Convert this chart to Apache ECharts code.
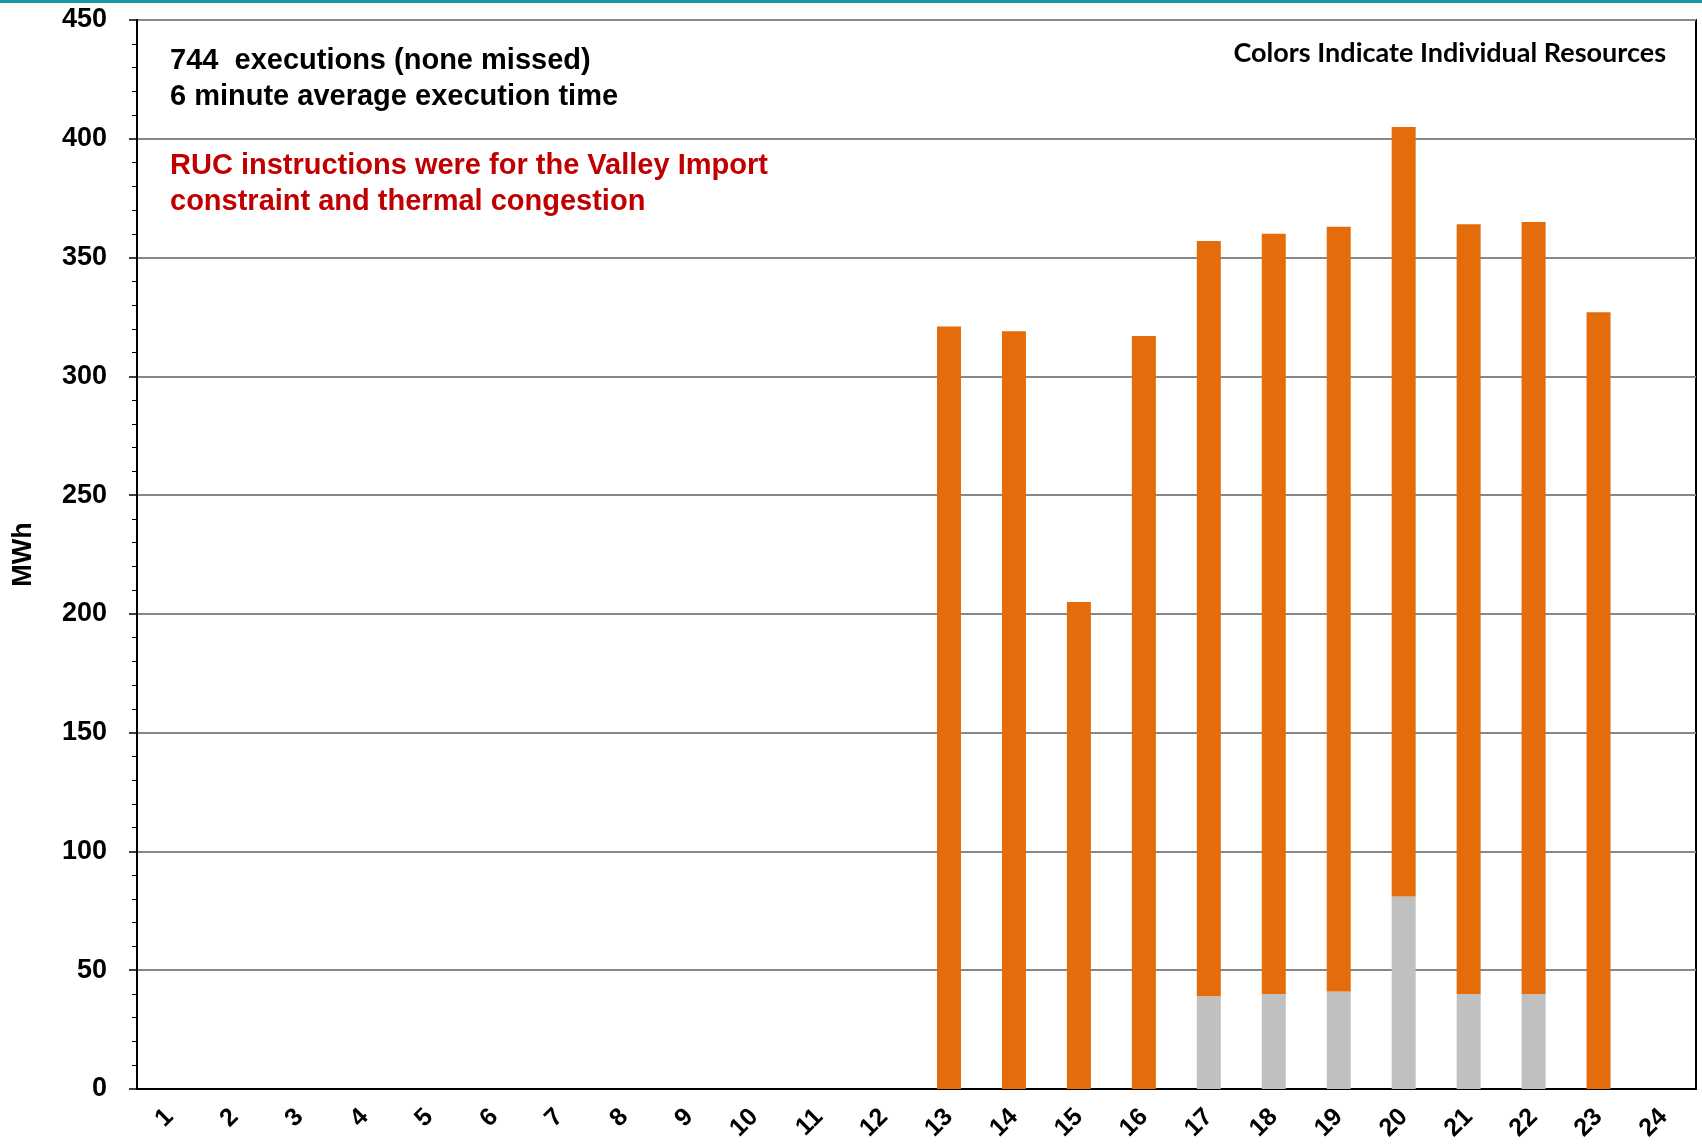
<!DOCTYPE html>
<html>
<head>
<meta charset="utf-8">
<script src="https://cdn.jsdelivr.net/npm/echarts@6/dist/echarts.min.js"></script>
<style>
  html, body { margin: 0; padding: 0; background: #fff; }
  #main { width: 1702px; height: 1144px; }
</style>
</head>
<body>
<div id="main"></div>
<script>
// hours of the day
var hours = ['1','2','3','4','5','6','7','8','9','10','11','12','13','14','15','16','17','18','19','20','21','22','23','24'];
// gray resource (bottom of stack), MWh
var grayResource = [0,0,0,0,0,0,0,0,0,0,0,0, 0,0,0,0, 39,40,41,81,40,40, 0,0];
// orange resource (top of stack), MWh
var orangeResource = [0,0,0,0,0,0,0,0,0,0,0,0, 321,319,205,317, 318,320,322,324,324,325, 327,0];
var yTicks = [0, 50, 100, 150, 200, 250, 300, 350, 400, 450];

var chartDom = document.getElementById('main');
var myChart = echarts.init(chartDom);

var arial = '"Liberation Sans", Arial, sans-serif';

var option = {
    backgroundColor: '#ffffff',
    animation: false,
    grid: {
        left: 137,
        right: 6,
        top: 20,
        bottom: 55,
        containLabel: false,
        outerBoundsMode: 'none',
        show: true,
        borderColor: '#000',
        borderWidth: 2
    },
    xAxis: {
        type: 'category',
        data: hours,
        axisLine: { lineStyle: { color: '#000', width: 2 } },
        axisTick: { length: 8, lineStyle: { color: '#000', width: 1.5 } },
        axisLabel: {
            rotate: 45,
            margin: 24,
            color: '#000',
            fontWeight: 'bold',
            fontSize: 25,
            fontFamily: arial
        }
    },
    yAxis: {
        type: 'value',
        min: yTicks[0],
        max: yTicks[yTicks.length - 1],
        interval: 50,
        name: 'MWh',
        nameLocation: 'middle',
        nameGap: 100,
        nameTextStyle: { color: '#000', fontWeight: 'bold', fontSize: 27, fontFamily: arial },
        axisLine: { show: true, lineStyle: { color: '#000', width: 2 } },
        axisTick: { show: true, length: 8, lineStyle: { color: '#000', width: 1.5 } },
        minorTick: { show: true, splitNumber: 5, length: 5, lineStyle: { color: '#000', width: 1 } },
        axisLabel: {
            margin: 30,
            color: '#000',
            fontWeight: 'bold',
            fontSize: 27,
            fontFamily: arial
        },
        splitLine: { lineStyle: { color: '#878787', width: 2 } }
    },
    series: [
        {
            name: 'Resource A',
            type: 'bar',
            stack: 'ruc',
            barWidth: 24,
            itemStyle: { color: '#c0c0c0' },
            data: grayResource
        },
        {
            name: 'Resource B',
            type: 'bar',
            stack: 'ruc',
            barWidth: 24,
            itemStyle: { color: '#e46c0a' },
            data: orangeResource
        }
    ],
    graphic: [
        {
            type: 'rect',
            left: 0, top: 0,
            shape: { width: 1702, height: 3 },
            style: { fill: '#139b9b' }
        },
        {
            type: 'text',
            left: 170, top: 43,
            style: {
                text: '744  executions (none missed)\n6 minute average execution time',
                fill: '#000',
                font: 'bold 29px ' + arial,
                lineHeight: 36
            }
        },
        {
            type: 'text',
            left: 170, top: 148,
            style: {
                text: 'RUC instructions were for the Valley Import\nconstraint and thermal congestion',
                fill: '#c00000',
                font: 'bold 29px ' + arial,
                lineHeight: 36
            }
        },
        {
            type: 'text',
            right: 36, top: 40,
            style: {
                text: 'Colors Indicate Individual Resources',
                fill: '#000',
                font: 'bold 27px Lato, "Open Sans", sans-serif'
            }
        }
    ]
};

myChart.setOption(option);
</script>
</body>
</html>
